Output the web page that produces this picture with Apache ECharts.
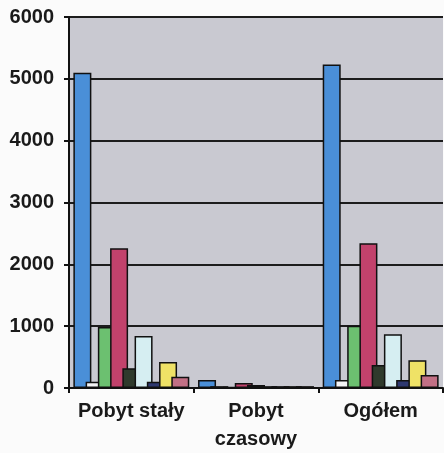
<!DOCTYPE html>
<html><head><meta charset="utf-8">
<script src="https://cdn.jsdelivr.net/npm/echarts@6/dist/echarts.min.js"></script>
<style>html,body{margin:0;padding:0;background:#fbfbfb;}#c{width:444px;height:453px;}</style>
</head><body><div id="c"></div>
<script>
const categories = ['Pobyt stały', 'Pobyt\nczasowy', 'Ogółem'];
const yTicks = [0, 1000, 2000, 3000, 4000, 5000, 6000];
const s1 = [5100, 130, 5230];
const s2 = [100, 30, 130];
const s3 = [985, 20, 1005];
const s4 = [2260, 80, 2340];
const s5 = [320, 50, 370];
const s6 = [840, 30, 870];
const s7 = [100, 30, 130];
const s8 = [420, 30, 450];
const s9 = [180, 30, 210];
const seriesValues = [s1, s2, s3, s4, s5, s6, s7, s8, s9];
const colors = ['#4a8fd8', '#f4f4f6', '#6cc070', '#c2426c', '#2f3a2c', '#d6eef2', '#2e3870', '#efe266', '#c27085'];

const chart = echarts.init(document.getElementById('c'), null, {renderer: 'canvas'});
const font = '"Liberation Sans", Arial, sans-serif';
chart.setOption({
  animation: false,
  backgroundColor: '#fbfbfb',
  grid: {left: 69, right: 1, top: 17, bottom: 65, show: true, backgroundColor: '#c9c9d1', borderWidth: 0},
  xAxis: {
    type: 'category', data: categories,
    axisLine: {lineStyle: {color: '#111', width: 2}},
    axisTick: {show: true, interval: 0, length: 5, lineStyle: {color: '#111', width: 2}},
    axisLabel: {interval: 0, fontFamily: font, fontWeight: 'bold', fontSize: 20, color: '#1a1a1a', margin: 9, lineHeight: 28}
  },
  yAxis: {
    type: 'value', min: yTicks[0], max: yTicks[yTicks.length - 1], interval: 1000,
    axisLine: {show: true, lineStyle: {color: '#111', width: 2}},
    axisTick: {show: true, length: 5, lineStyle: {color: '#111', width: 2}},
    axisLabel: {fontFamily: font, fontWeight: 'bold', fontSize: 20, color: '#1a1a1a', margin: 15,
      formatter: v => String(v)},
    splitLine: {show: true, lineStyle: {color: '#1c1c1c', width: 2}}
  },
  series: seriesValues.map((d, i) => ({
    type: 'bar', data: d, barWidth: 18, barGap: '-32%',
    itemStyle: {color: colors[i], borderColor: '#111', borderWidth: 1.5}
  }))
});
</script>
</body></html>
